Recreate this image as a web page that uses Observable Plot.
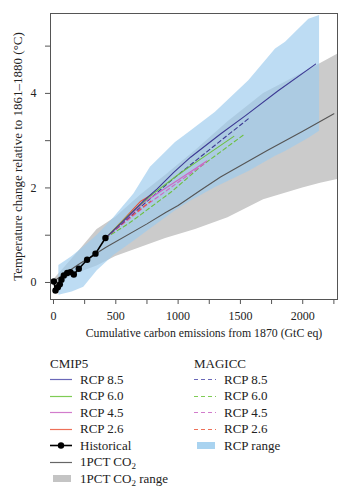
<!DOCTYPE html>
<html><head><meta charset="utf-8">
<script src="https://cdn.jsdelivr.net/npm/d3@7"></script>
<script src="https://cdn.jsdelivr.net/npm/@observablehq/plot@0.6"></script>
<style>
body{margin:0;background:#fff;font-family:'Liberation Serif',serif;}
#wrap{position:relative;width:350px;height:500px;overflow:hidden;}
#wrap svg{display:block;}
#wrap svg text{font-family:'Liberation Serif',serif;}
#legend{position:absolute;left:0;top:345px;}
</style></head><body><div id="wrap"></div>
<script>
// ---- data ----
const historical = [[3,0.02],[16,-0.17],[35,-0.1],[51,-0.04],[64,0.06],[83,0.15],[110,0.2],[136,0.22],[163,0.17],[203,0.29],[270,0.48],[337,0.61],[417,0.94]];
const cmip85 = [[417,0.94],[550,1.27],[725,1.73],[832,1.98],[965,2.33],[1100,2.65],[1340,3.14],[1541,3.53],[1800,4.05],[2103,4.62]];
const cmip60 = [[417,0.94],[600,1.42],[800,1.88],[1000,2.28],[1180,2.61],[1447,3.09]];
const cmip45 = [[417,0.94],[738,1.72],[1006,2.18],[1230,2.57]];
const cmip26 = [[417,0.94],[550,1.3],[700,1.72],[790,1.86]];
const mag85 = [[417,0.94],[700,1.6],[950,2.17],[1180,2.66],[1581,3.5]];
const mag60 = [[417,0.94],[605,1.25],[952,1.93],[1180,2.45],[1524,3.12]];
const mag45 = [[417,0.94],[738,1.62],[1000,2.12],[1215,2.52]];
const mag26 = [[417,0.94],[600,1.35],[780,1.72]];
const pct1 = [[20,0.06],[200,0.38],[425,0.75],[750,1.24],[900,1.48],[1000,1.63],[1180,1.95],[1340,2.23],[1715,2.79],[2000,3.2],[2250,3.57]];
// [x, low, high]
const pctRange = [[0,-0.05,0.05],[200,0.2,0.65],[350,0.35,1.12],[500,0.55,1.38],[700,0.74,1.85],[900,0.93,2.27],[1140,1.12,2.79],[1400,1.37,3.4],[1686,1.75,4.0],[2000,2.0,4.43],[2143,2.1,4.63],[2279,2.18,4.83]];
const rcpRange = [[43,-0.27,0.36],[150,-0.2,0.55],[243,-0.1,0.75],[351,0.25,1.0],[484,0.57,1.37],[645,0.87,1.87],[778,1.13,2.44],[979,1.52,2.96],[1100,1.72,3.2],[1300,2.01,3.6],[1567,2.35,4.27],[1782,2.67,4.94],[1862,2.77,5.08],[2049,3.05,5.57],[2135,3.2,5.65]];
const xTicks = [0,250,500,750,1000,1250,1500,1750,2000,2250];
const yTicks = [0,1,2,3,4,5];
const xLabel = "Cumulative carbon emissions from 1870 (GtC eq)";
const yLabel = "Temperature change relative to 1861–1880 (°C)";

const col = {r85:"#3d3a94", r60:"#6cc040", r45:"#cc66c4", r26:"#e4553a"};
const FONT = "'Liberation Serif', serif";

const L = (data, stroke, dash) => Plot.line(data, {x:d=>d[0], y:d=>d[1], stroke, strokeWidth:1.1, strokeDasharray:dash});

const chart = Plot.plot({
  width:350, height:345,
  marginLeft:50, marginRight:13, marginTop:13, marginBottom:46,
  x:{domain:[-24,2279]},
  y:{domain:[-0.36,5.69]},
  style:{fontFamily:FONT, fontSize:"12px", color:"#222", background:"#fff"},
  marks:[
    Plot.areaY(pctRange, {x:d=>d[0], y1:d=>d[1], y2:d=>d[2], fill:"#cbcbcb"}),
    Plot.areaY(rcpRange, {x:d=>d[0], y1:d=>d[1], y2:d=>d[2], fill:"#9dcbee", fillOpacity:0.68}),
    L(pct1, "#555", null),
    L(mag60, col.r60, "4,3"),
    L(mag45, col.r45, "4,3"),
    L(mag26, col.r26, "4,3"),
    L(mag85, col.r85, "4,3"),
    L(cmip26, col.r26, null),
    L(cmip45, col.r45, null),
    L(cmip60, col.r60, null),
    L(cmip85, col.r85, null),
    Plot.line(historical, {x:d=>d[0], y:d=>d[1], stroke:"#000", strokeWidth:1.6}),
    Plot.dot(historical, {x:d=>d[0], y:d=>d[1], fill:"#000", r:3.2}),
    Plot.frame({stroke:"#555", strokeWidth:1}),
    Plot.axisX({ticks:xTicks, tickFormat:d=>d%500===0?String(d):"", tickSize:5, tickPadding:7, stroke:"#555", label:null, fontSize:12}),
    Plot.axisY({ticks:yTicks, tickFormat:d=>d%2===0?String(d):"", tickSize:5, tickPadding:9, stroke:"#555", label:null, fontSize:12}),
    Plot.text([xLabel], {frameAnchor:"bottom", dy:37, fontSize:11.8, fill:"#222", textAnchor:"middle", dx:10}),
    Plot.text([yLabel], {frameAnchor:"left", dx:-33, rotate:-90, fontSize:13, fill:"#222", textAnchor:"middle"})
  ]
});
const wrap = document.getElementById("wrap");
wrap.appendChild(chart);

// ---- legend ----
const lg = d3.create("svg").attr("id","legend").attr("width",350).attr("height",155)
  .attr("font-family",FONT).attr("font-size","13px");
const top0 = 345;
function header(x, y, t){ lg.append("text").attr("x",x).attr("y",y-top0).attr("dy","0.35em").attr("fill","#222").text(t); }
function row(x, y, t, stroke, dash, kind){
  const yy = y-top0;
  if(kind==="rect"){
    lg.append("rect").attr("x",x+3).attr("y",Math.round(yy)-3).attr("width",18).attr("height",7).attr("fill",stroke);
  } else {
    const ly = Math.round(yy)+0.5;
    lg.append("line").attr("x1",x).attr("x2",x+22).attr("y1",ly).attr("y2",ly).attr("stroke",stroke).attr("stroke-width",kind==="hist"?1.6:1.2).attr("stroke-dasharray",dash||null);
    if(kind==="hist") lg.append("circle").attr("cx",x+11).attr("cy",ly).attr("r",3.2).attr("fill","#000");
  }
  const tx = lg.append("text").attr("x",x+30).attr("y",yy).attr("dy","0.35em").attr("fill","#222");
  if(Array.isArray(t)){
    tx.append("tspan").text(t[0]);
    tx.append("tspan").attr("font-size","9px").attr("dy","3").text("2");
    if(t[1]) tx.append("tspan").attr("dy","-3").text(t[1]);
  } else tx.text(t);
}
const ys = [379,395.5,412,428.5,445,461.5,478];
header(50,363,"CMIP5");
row(50,ys[0],"RCP 8.5","#6a68b8");
row(50,ys[1],"RCP 6.0","#7fcc55");
row(50,ys[2],"RCP 4.5","#d27ccc");
row(50,ys[3],"RCP 2.6","#ee7058");
row(50,ys[4],"Historical","#000",null,"hist");
row(50,ys[5],["1PCT CO",""],"#666");
row(50,ys[6],["1PCT CO"," range"],"#c4c4c4",null,"rect");
header(194,363,"MAGICC");
row(194,ys[0],"RCP 8.5","#6a68b8","4,3");
row(194,ys[1],"RCP 6.0","#7fcc55","4,3");
row(194,ys[2],"RCP 4.5","#d27ccc","4,3");
row(194,ys[3],"RCP 2.6","#ee7058","4,3");
row(194,ys[4],"RCP range","#a9d3f0",null,"rect");
wrap.appendChild(lg.node());
</script></body></html>
